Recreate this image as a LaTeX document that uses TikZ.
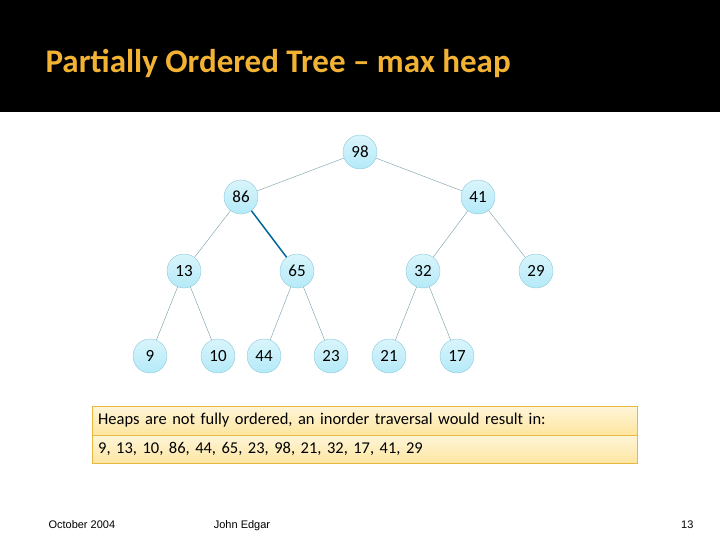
\documentclass[tikz,border=0pt]{standalone}
\usepackage{fontspec}
\setmainfont{Carlito}
\newfontfamily\footfont{Liberation Sans}
\definecolor{titlegold}{HTML}{F2B233}
\definecolor{nodefill}{HTML}{B4EAF8}
\definecolor{nodeline}{HTML}{8CC8DC}
\definecolor{edgeline}{HTML}{8AAAB4}
\definecolor{boxfill}{HTML}{FDE6A0}
\definecolor{boxline}{HTML}{E8B840}
\tikzstyle{heapnode}=[circle, draw=nodeline, top color=nodefill!50!white, bottom color=nodefill, minimum size=34pt, inner sep=0pt, font=\fontsize{17}{17}\selectfont]
\tikzstyle{edge}=[draw=edgeline, line width=0.5pt]
\tikzstyle{row}=[draw=boxline, top color=boxfill!40!white, bottom color=boxfill, minimum width=545pt, minimum height=28.5pt, anchor=north west, inner xsep=6pt, font=\fontsize{16.5}{16.5}\selectfont, align=left, text width=533pt]
\tikzstyle{foot}=[font=\footfont\fontsize{11}{11}\selectfont, anchor=base]
\begin{document}
\begin{tikzpicture}[x=1pt,y=-1pt]
\useasboundingbox (0,0) rectangle (720,540);
\fill[black] (0,0) rectangle (720,112);
\node[anchor=west, text=titlegold, font=\bfseries\fontsize{33}{33}\selectfont] (title) at (42,63) {Partially Ordered Tree -- max heap};
%
\node[heapnode] (n98) at (360,152) {98};
\node[heapnode] (n86) at (241,197) {86};
\node[heapnode] (n41) at (478,197) {41};
\node[heapnode] (n13) at (184,271) {13};
\node[heapnode] (n65) at (297,271) {65};
\node[heapnode] (n32) at (423,271) {32};
\node[heapnode] (n29) at (536,271) {29};
\node[heapnode] (n9) at (150,356) {9};
\node[heapnode] (n10) at (218,356) {10};
\node[heapnode] (n44) at (264,356) {44};
\node[heapnode] (n23) at (331,356) {23};
\node[heapnode] (n21) at (389,356) {21};
\node[heapnode] (n17) at (457,356) {17};
%
\draw[edge] (n98) -- (n86); \draw[edge] (n98) -- (n41);
\draw[edge] (n86) -- (n13);
\draw[draw=teal!80!blue, line width=1.5pt] (n86) -- (n65);
\draw[edge] (n41) -- (n32); \draw[edge] (n41) -- (n29);
\draw[edge] (n13) -- (n9); \draw[edge] (n13) -- (n10);
\draw[edge] (n65) -- (n44); \draw[edge] (n65) -- (n23);
\draw[edge] (n32) -- (n21); \draw[edge] (n32) -- (n17);
%
\node[row] (head) at (92,406) {Heaps are not fully ordered, an inorder traversal would result in:};
\node[row] (list) at (head.south west) {9, 13, 10, 86, 44, 65, 23, 98, 21, 32, 17, 41, 29};
%
\node[foot, anchor=base west] (date) at (45,528) {October 2004};
\node[foot] (author) at (242,528) {John Edgar};
\node[foot, anchor=base east] (page) at (697,528) {13};
\end{tikzpicture}
\end{document}
